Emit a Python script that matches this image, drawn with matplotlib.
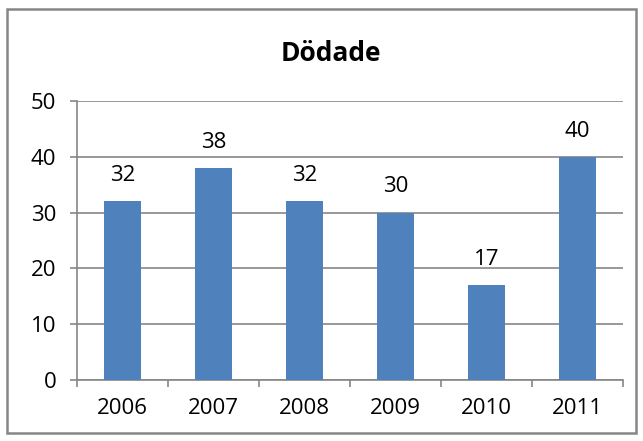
import matplotlib
matplotlib.use("Agg")
import matplotlib.pyplot as plt
from matplotlib.patches import Rectangle

years = ["2006", "2007", "2008", "2009", "2010", "2011"]
dodade = [32, 38, 32, 30, 17, 40]

plt.rcParams["font.family"] = ["Open Sans", "DejaVu Sans"]
grey = "#868686"
bar_color = "#4F81BD"

fig = plt.figure(figsize=(6.43, 4.41), dpi=100)
ax = fig.add_axes([0.1198, 0.1383, 0.8492, 0.6327])

x = range(len(years))
bars = ax.bar(x, dodade, width=0.4, color=bar_color, zorder=3)
for b, v in zip(bars, dodade):
    ax.annotate(str(v), (b.get_x() + b.get_width() / 2, v), xytext=(0, 11),
                textcoords="offset points", ha="center", va="bottom", fontsize=16)

ax.set_xlim(-0.5, len(years) - 0.5)
ax.set_ylim(0, 50)
ax.set_yticks(range(0, 51, 10))
ax.yaxis.grid(True, color=grey, linewidth=1.2, zorder=0)
ax.set_xticks(x)
ax.set_xticklabels(years, fontsize=16)
ax.set_xticks([i - 0.5 for i in range(len(years) + 1)], minor=True)
ax.tick_params(axis="x", which="major", length=0, pad=13)
ax.tick_params(axis="x", which="minor", length=5, color=grey, width=1.2)
ax.tick_params(axis="y", length=5, color=grey, width=1.2, labelsize=16, pad=10)
for s in ["top", "right"]:
    ax.spines[s].set_visible(False)
for s in ["left", "bottom"]:
    ax.spines[s].set_color(grey)
    ax.spines[s].set_linewidth(1.2)

fig.text(0.515, 0.878, "Dödade", ha="center", va="center", fontsize=19, fontweight="bold")

fig.patches.append(Rectangle((0.011, 0.018), 0.978, 0.962, transform=fig.transFigure,
                             fill=False, edgecolor=grey, linewidth=1.8))

fig.savefig("out.png", dpi=100)
